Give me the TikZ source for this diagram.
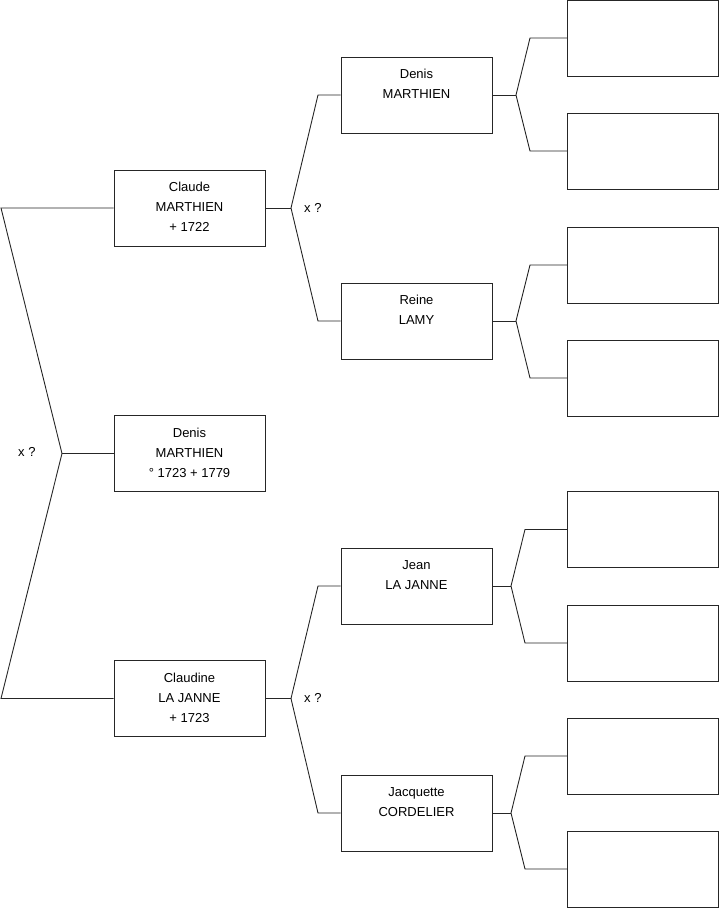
\documentclass[tikz,border=0pt]{standalone}
\usepackage{fontspec}
\setmainfont{Liberation Sans}
\begin{document}
\begin{tikzpicture}[x=1pt,y=-1pt,
  box/.style={draw=black!85, line width=0.9pt, minimum width=151pt, minimum height=76pt, inner sep=0pt},
  txt/.style={anchor=north, inner sep=0pt, align=center, font=\fontsize{13}{20}\selectfont},
  lnk/.style={draw=black!85, line width=0.9pt},
  mar/.style={anchor=west, inner sep=0pt, font=\fontsize{13}{20}\selectfont}]
\useasboundingbox (0,0) rectangle (719,908);
% generation 1
\node[box] (c1) at (189.5,208) {};
\node[box] (c2) at (189.5,453.5) {};
\node[box] (c3) at (189.5,698.5) {};
% generation 2
\node[box] (p1) at (416.5,95) {};
\node[box] (p2) at (416.5,321) {};
\node[box] (p3) at (416.5,586) {};
\node[box] (p4) at (416.5,813) {};
% generation 3
\node[box] (g1) at (643,38) {};
\node[box] (g2) at (643,151) {};
\node[box] (g3) at (643,265) {};
\node[box] (g4) at (643,378) {};
\node[box] (g5) at (643,529.5) {};
\node[box] (g6) at (643,643) {};
\node[box] (g7) at (643,756) {};
\node[box] (g8) at (643,869) {};
% texts
\node[txt] (t1) at ([yshift=-12.5pt]c1.north) {Claude\\MARTHIEN\\+ 1722};
\node[txt] (t2) at ([yshift=-12.5pt]c2.north) {Denis\\MARTHIEN\\° 1723 + 1779};
\node[txt] (t3) at ([yshift=-12.5pt]c3.north) {Claudine\\LA JANNE\\+ 1723};
\node[txt] (t4) at ([yshift=-12.5pt]p1.north) {Denis\\MARTHIEN};
\node[txt] (t5) at ([yshift=-12.5pt]p2.north) {Reine\\LAMY};
\node[txt] (t6) at ([yshift=-12.5pt]p3.north) {Jean\\LA JANNE};
\node[txt] (t7) at ([yshift=-12.5pt]p4.north) {Jacquette\\CORDELIER};
% marriage labels
\node[mar] (m1) at (18,452) {x ?};
\node[mar] (m2) at (304,208) {x ?};
\node[mar] (m3) at (304,698) {x ?};
% junction coordinates
\coordinate (L1) at (1,208);
\coordinate (Lj) at (62,453.5);
\coordinate (L2) at (1,698.5);
\coordinate (A0) at (291,208);
\coordinate (A1) at (318,95);
\coordinate (A2) at (318,321);
\coordinate (B0) at (291,698.5);
\coordinate (B1) at (318,586);
\coordinate (B2) at (318,813);
\coordinate (P1j) at (516,95);
\coordinate (P1a) at (530,38);
\coordinate (P1b) at (530,151);
\coordinate (P2j) at (516,321);
\coordinate (P2a) at (530,265);
\coordinate (P2b) at (530,378);
\coordinate (P3j) at (511,586);
\coordinate (P3a) at (525,529.5);
\coordinate (P3b) at (525,643);
\coordinate (P4j) at (511,813);
\coordinate (P4a) at (525,756);
\coordinate (P4b) at (525,869);
% connectors
\draw[lnk] (c1.west) -- (L1) -- (Lj) -- (L2) -- (c3.west);
\draw[lnk] (Lj) -- (c2.west);
\draw[lnk] (c1.east) -- (A0);
\draw[lnk] (p1.west) -- (A1) -- (A0) -- (A2) -- (p2.west);
\draw[lnk] (c3.east) -- (B0);
\draw[lnk] (p3.west) -- (B1) -- (B0) -- (B2) -- (p4.west);
\draw[lnk] (p1.east) -- (P1j);
\draw[lnk] (g1.west) -- (P1a) -- (P1j) -- (P1b) -- (g2.west);
\draw[lnk] (p2.east) -- (P2j);
\draw[lnk] (g3.west) -- (P2a) -- (P2j) -- (P2b) -- (g4.west);
\draw[lnk] (p3.east) -- (P3j);
\draw[lnk] (g5.west) -- (P3a) -- (P3j) -- (P3b) -- (g6.west);
\draw[lnk] (p4.east) -- (P4j);
\draw[lnk] (g7.west) -- (P4a) -- (P4j) -- (P4b) -- (g8.west);
\end{tikzpicture}
\end{document}
